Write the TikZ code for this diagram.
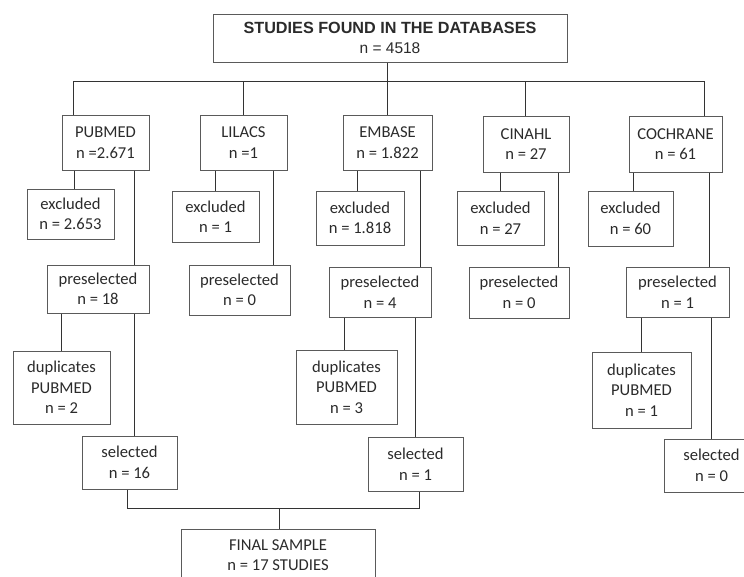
\documentclass[tikz,border=0pt]{standalone}
\usepackage{fontspec}
\setmainfont{Carlito}
\newfontfamily\headfont{Liberation Sans}
\usepackage{xcolor}
\usepackage{tikz}
\usetikzlibrary{positioning,calc}
\definecolor{cText}{HTML}{2B2B2B}
\definecolor{cEdge}{HTML}{5A5A5A}
\definecolor{cWire}{HTML}{333333}
\tikzset{
  fbox/.style={draw=cEdge,fill=white,line width=1pt,align=center,text=cText,inner sep=0pt,
    font=\fontsize{16.6}{20.5}\selectfont},
  link/.style={draw=cWire,line width=1pt},
}

\begin{document}
\begin{tikzpicture}[x=1pt,y=-1pt]
  \useasboundingbox (0,0) rectangle (744,576);
  \clip (0,0) rectangle (744,576);
  % total
  \node[fbox,minimum width=354pt,minimum height=48pt] (top) at (390,38)
    {{\headfont\bfseries\fontsize{16.2}{16}\selectfont STUDIES FOUND IN THE DATABASES}\\[-0.5pt]
     {\headfont\fontsize{15.5}{16}\selectfont n = 4518}};
  % databases
  \node[fbox,minimum width=87pt,minimum height=55pt] (pub) at (105.5,142.5) {PUBMED\\n =2.671};
  \node[fbox,minimum width=87pt,minimum height=55pt] (lil) at (243.5,142.5) {LILACS\\n =1};
  \node[fbox,minimum width=89pt,minimum height=55pt] (emb) at (387.5,142.5) {EMBASE\\n = 1.822};
  \node[fbox,minimum width=86pt,minimum height=56pt] (cin) at (526,144) {CINAHL\\n = 27};
  \node[fbox,minimum width=93pt,minimum height=56pt] (coc) at (675.5,144) {COCHRANE\\n = 61};
  % excluded
  \node[fbox,minimum width=87pt,minimum height=50pt] (pubx) at (70.5,214) {excluded\\n = 2.653};
  \node[fbox,minimum width=87pt,minimum height=51pt] (lilx) at (215.5,216.5) {excluded\\n = 1};
  \node[fbox,minimum width=88pt,minimum height=54pt] (embx) at (360,218) {excluded\\n = 1.818};
  \node[fbox,minimum width=87pt,minimum height=54pt] (cinx) at (500.5,218) {excluded\\n = 27};
  \node[fbox,minimum width=85pt,minimum height=55pt] (cocx) at (630.5,218.5) {excluded\\n = 60};
  % preselected
  \node[fbox,minimum width=102pt,minimum height=48pt] (pubp) at (98,289) {preselected\\n = 18};
  \node[fbox,minimum width=101pt,minimum height=50pt] (lilp) at (239.5,290) {preselected\\n = 0};
  \node[fbox,minimum width=102pt,minimum height=50pt] (embp) at (380,292) {preselected\\n = 4};
  \node[fbox,minimum width=100pt,minimum height=51pt] (cinp) at (519,292.5) {preselected\\n = 0};
  \node[fbox,minimum width=103pt,minimum height=50pt] (cocp) at (677.5,292) {preselected\\n = 1};
  % duplicates
  \node[fbox,minimum width=97pt,minimum height=73pt] (pubd) at (61.5,387.5) {duplicates\\PUBMED\\n = 2};
  \node[fbox,minimum width=101pt,minimum height=74pt] (embd) at (346.5,387) {duplicates\\PUBMED\\n = 3};
  \node[fbox,minimum width=99pt,minimum height=76pt] (cocd) at (641.5,390) {duplicates\\PUBMED\\n = 1};
  % selected
  \node[fbox,minimum width=95pt,minimum height=53pt] (pubs) at (129.5,462.5) {selected\\n = 16};
  \node[fbox,minimum width=95pt,minimum height=54pt] (embs) at (415.5,464) {selected\\n = 1};
  \node[fbox,minimum width=95pt,minimum height=53pt] (cocs) at (711.5,465.5) {selected\\n = 0};
  % final
  \node[fbox,minimum width=194pt,minimum height=52pt] (fin) at (278,555) {FINAL SAMPLE\\n = 17 STUDIES};

  % tree
  \draw[link] ([xshift=-3pt]top.south) -- ++(0,20);
  \draw[link] ([xshift=-32.5pt]pub.north) -- ++(0,-33) -| ([xshift=28.5pt]coc.north);
  \draw[link] (lil.north) -- ++(0,-33);
  \draw[link] (emb.north) -- ++(0,-33);
  \draw[link] ([xshift=-1pt]cin.north) -- ++(0,-34);
  % pubmed
  \draw[link] ([xshift=-31.5pt]pub.south) -- ([xshift=3.5pt]pubx.north);
  \draw[link] ([xshift=28.5pt]pub.south) -- ([xshift=36pt]pubp.north);
  \draw[link] ([xshift=-37pt]pubp.south) -- ([xshift=-0.5pt]pubd.north);
  \draw[link] ([xshift=36pt]pubp.south) -- ([xshift=4.5pt]pubs.north);
  % lilacs
  \draw[link] ([xshift=-28.5pt]lil.south) -- ([xshift=-0.5pt]lilx.north);
  \draw[link] ([xshift=29.5pt]lil.south) -- ([xshift=33.5pt]lilp.north);
  % embase
  \draw[link] ([xshift=-30.5pt]emb.south) -- ([xshift=-3pt]embx.north);
  \draw[link] ([xshift=32.5pt]emb.south) -- ([xshift=40pt]embp.north);
  \draw[link] ([xshift=-36pt]embp.south) -- ([xshift=-2.5pt]embd.north);
  \draw[link] ([xshift=35pt]embp.south) -- ([xshift=-0.5pt]embs.north);
  % cinahl
  \draw[link] ([xshift=-26pt]cin.south) -- ([xshift=-0.5pt]cinx.north);
  \draw[link] ([xshift=32pt]cin.south) -- ([xshift=39pt]cinp.north);
  % cochrane
  \draw[link] ([xshift=-42.5pt]coc.south) -- ([xshift=2.5pt]cocx.north);
  \draw[link] ([xshift=33.5pt]coc.south) -- ([xshift=31.5pt]cocp.north);
  \draw[link] ([xshift=-36.5pt]cocp.south) -- ([xshift=-0.5pt]cocd.north);
  \draw[link] ([xshift=33.5pt]cocp.south) -- ([xshift=-0.5pt]cocs.north);
  % final
  \draw[link] ([xshift=-2.5pt]pubs.south) -- ++(0,19) -| ([xshift=3.5pt]embs.south);
  \draw[link] ([xshift=1pt]fin.north) -- ++(0,-21);
\end{tikzpicture}
\end{document}
